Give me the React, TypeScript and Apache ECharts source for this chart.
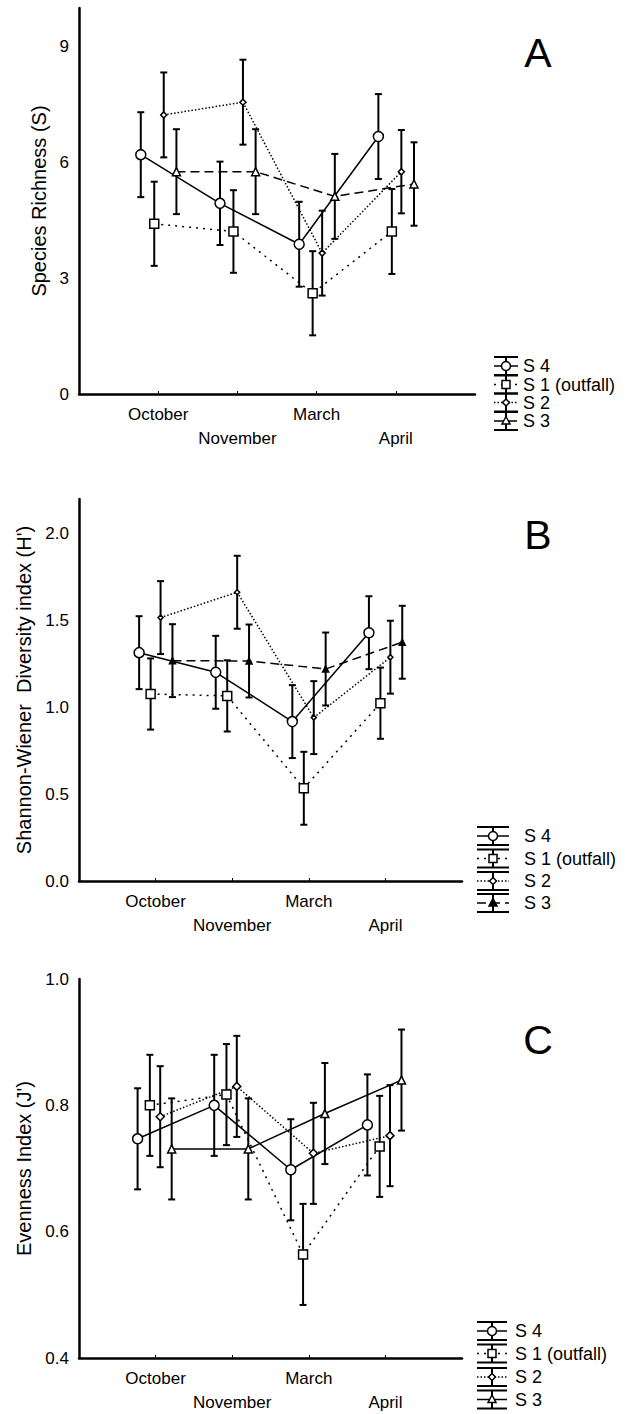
import React, { useEffect, useRef } from "react";
import * as echarts from "echarts";

// ---------- data ----------
const months = ["October", "November", "March", "April"];
const stations = ["S 4", "S 1 (outfall)", "S 2", "S 3"];

// Panel A: Species Richness (S)
const richS4 = [6.2, 4.94, 3.88, 6.67];
const richS1 = [4.41, 4.21, 2.61, 4.21];
const richS2 = [7.23, 7.56, 3.65, 5.76];
const richS3 = [5.76, 5.76, 5.12, 5.44];
const richErrS4 = [1.1, 1.08, 1.1, 1.1];
const richErrS1 = [1.09, 1.07, 1.09, 1.1];
const richErrS2 = [1.1, 1.1, 1.1, 1.08];
const richErrS3 = [1.1, 1.1, 1.1, 1.08];

// Panel B: Shannon-Wiener diversity (H')
const divS4 = [1.315, 1.202, 0.918, 1.43];
const divS1 = [1.077, 1.066, 0.534, 1.024];
const divS2 = [1.517, 1.663, 0.941, 1.289];
const divS3 = [1.269, 1.267, 1.221, 1.375];
const divErrS4 = [0.21, 0.21, 0.21, 0.21];
const divErrS1 = [0.205, 0.205, 0.21, 0.205];
const divErrS2 = [0.21, 0.21, 0.21, 0.21];
const divErrS3 = [0.21, 0.21, 0.21, 0.21];

// Panel C: Evenness (J')
const evS4 = [0.747, 0.8, 0.698, 0.769];
const evS1 = [0.8, 0.817, 0.564, 0.735];
const evS2 = [0.782, 0.83, 0.724, 0.752];
const evS3 = [0.731, 0.731, 0.787, 0.84];
const evErrS4 = [0.08, 0.08, 0.08, 0.08];
const evErrS1 = [0.08, 0.08, 0.08, 0.08];
const evErrS2 = [0.08, 0.08, 0.08, 0.08];
const evErrS3 = [0.08, 0.08, 0.08, 0.08];

const yTicksA = [0, 3, 6, 9];
const yTicksB = [0, 0.5, 1.0, 1.5, 2.0];
const yTicksC = [0.4, 0.6, 0.8, 1.0];

// ---------- layout / styles ----------
const FONT = "Liberation Sans, Arial, sans-serif";

const panels = [
  {
    letter: "A",
    name: "Species Richness (S)",
    grid: { left: 79, top: 8, width: 396, height: 386 },
    yMin: 0, yMax: 10, yTicks: yTicksA, digits: 0, nameGap: 27,
    values: [richS4, richS1, richS2, richS3],
    errs: [richErrS4, richErrS1, richErrS2, richErrS3],
    dodge: [-0.22, -0.05, 0.07, 0.23],
    letterPos: [538, 53],
    legend: { cx: 506, half: 12, textX: 523, ys: [366, 384.5, 402.5, 421] },
    s3Solid: false, s3Filled: false, s2Size: 6,
  },
  {
    letter: "B",
    name: "Shannon-Wiener  Diversity index (H')",
    grid: { left: 79, top: 499, width: 383, height: 382 },
    yMin: 0, yMax: 2.2, yTicks: yTicksB, digits: 1, nameGap: 41,
    values: [divS4, divS1, divS2, divS3],
    errs: [divErrS4, divErrS1, divErrS2, divErrS3],
    dodge: [-0.215, -0.065, 0.065, 0.22],
    letterPos: [538, 535],
    legend: { cx: 493, half: 16, textX: 524, ys: [836, 858.5, 881, 903] },
    s3Solid: false, s3Filled: true, s2Size: 5,
  },
  {
    letter: "C",
    name: "Evenness Index (J')",
    grid: { left: 79, top: 979, width: 383, height: 384 },
    yMin: 0.4, yMax: 1.0, yTicks: yTicksC, digits: 1, nameGap: 38,
    values: [evS4, evS1, evS2, evS3],
    errs: [evErrS4, evErrS1, evErrS2, evErrS3],
    dodge: [-0.235, -0.075, 0.06, 0.21],
    letterPos: [538, 1040],
    legend: { cx: 492, half: 15, textX: 515, ys: [1331, 1353.5, 1377, 1399.5] },
    s3Solid: true, s3Filled: false, s2Size: 8,
  },
];

const lineDashes: any[] = ["solid", [2, 5], [1.5, 2], [9, 5]];
const symbols = ["circle", "rect", "diamond", "triangle"];
const symbolSizes = [10, 9, 6, 8];

function buildOption() {
  const grid: any[] = [];
  const xAxis: any[] = [];
  const yAxis: any[] = [];
  const series: any[] = [];
  const graphic: any[] = [];

  panels.forEach((p, pi) => {
    grid.push({ ...p.grid, containLabel: false });
    xAxis.push({
      type: "value",
      gridIndex: pi,
      min: 0,
      max: 5,
      interval: 1,
      splitLine: { show: false },
      axisLine: { show: true, lineStyle: { color: "#000", width: 2.5 } },
      axisTick: { show: true, inside: true, length: 3, customValues: [1, 2, 3, 4], lineStyle: { color: "#000", width: 1 } },
      axisLabel: {
        show: true,
        customValues: [1, 2, 3, 4],
        color: "#000",
        fontFamily: FONT,
        fontSize: 17,
        lineHeight: 24,
        margin: 8,
        formatter: (v: number) => {
          const i = Math.round(v) - 1;
          if (i < 0 || i > 3) return "";
          return i % 2 === 1 ? "\n" + months[i] : months[i];
        },
      },
    });
    yAxis.push({
      type: "value",
      gridIndex: pi,
      min: p.yMin,
      max: p.yMax,
      name: p.name,
      nameLocation: "middle",
      nameRotate: 90,
      nameGap: p.nameGap,
      nameTextStyle: { color: "#000", fontFamily: FONT, fontSize: 20 },
      splitLine: { show: false },
      axisLine: { show: true, lineStyle: { color: "#000", width: 2.5 } },
      axisTick: { show: false },
      axisLabel: {
        customValues: p.yTicks,
        color: "#000",
        fontFamily: FONT,
        fontSize: 17,
        margin: 10,
        formatter: (v: number) => v.toFixed(p.digits),
      },
    });

    p.values.forEach((vals, si) => {
      const off = p.dodge[si];
      const errs = p.errs[si];
      const dash = si === 3 && p.s3Solid ? "solid" : lineDashes[si];
      const size = si === 2 ? p.s2Size : si === 3 && p.s3Filled ? 6 : symbolSizes[si];
      const fill = si === 3 && p.s3Filled ? "#000" : "#fff";
      series.push({
        type: "custom",
        name: stations[si] + " err " + p.letter,
        xAxisIndex: pi,
        yAxisIndex: pi,
        z: 2,
        silent: true,
        encode: { x: 0, y: [1, 2] },
        data: vals.map((v, k) => [k + 1 + off, v - errs[k], v + errs[k]]),
        renderItem: (params: any, api: any) => {
          const x = api.value(0);
          const lo = api.coord([x, api.value(1)]);
          const hi = api.coord([x, api.value(2)]);
          const w = 3.5;
          const st = { stroke: "#000", lineWidth: 2 };
          return {
            type: "group",
            children: [
              { type: "line", shape: { x1: lo[0], y1: lo[1], x2: hi[0], y2: hi[1] }, style: st },
              { type: "line", shape: { x1: hi[0] - w, y1: hi[1], x2: hi[0] + w, y2: hi[1] }, style: st },
              { type: "line", shape: { x1: lo[0] - w, y1: lo[1], x2: lo[0] + w, y2: lo[1] }, style: st },
            ],
          };
        },
      });
      series.push({
        type: "line",
        name: stations[si] + " " + p.letter,
        xAxisIndex: pi,
        yAxisIndex: pi,
        z: 3,
        data: vals.map((v, k) => [k + 1 + off, v]),
        symbol: symbols[si],
        symbolSize: size,
        showAllSymbol: true,
        lineStyle: { color: "#000", width: 1.5, type: dash },
        itemStyle: { color: fill, borderColor: "#000", borderWidth: 1.5 },
      });
    });

    // panel letter
    graphic.push({
      type: "text",
      x: p.letterPos[0],
      y: p.letterPos[1],
      style: { text: p.letter, fontFamily: FONT, fontSize: 41, fill: "#000", align: "center", verticalAlign: "middle" },
    });

    // legend
    const L = p.legend;
    stations.forEach((name, si) => {
      const y = L.ys[si];
      const x1 = L.cx - L.half;
      const x2 = L.cx + L.half;
      const st = { stroke: "#000", lineWidth: 2 };
      const dash = si === 3 && p.s3Solid ? "solid" : lineDashes[si];
      graphic.push({ type: "line", shape: { x1: L.cx, y1: y - 9, x2: L.cx, y2: y + 9 }, style: st });
      graphic.push({ type: "line", shape: { x1, y1: y - 9, x2, y2: y - 9 }, style: st });
      graphic.push({ type: "line", shape: { x1, y1: y + 9, x2, y2: y + 9 }, style: st });
      graphic.push({
        type: "line",
        shape: { x1, y1: y, x2, y2: y },
        style: { stroke: "#000", lineWidth: 1.5, lineDash: dash === "solid" ? null : dash },
      });
      const ms = { fill: si === 3 && p.s3Filled ? "#000" : "#fff", stroke: "#000", lineWidth: 1.5 };
      if (si === 0) graphic.push({ type: "circle", shape: { cx: L.cx, cy: y, r: 4.5 }, style: ms });
      else if (si === 1) graphic.push({ type: "rect", shape: { x: L.cx - 4, y: y - 4, width: 8, height: 8 }, style: ms });
      else if (si === 2)
        graphic.push({ type: "polygon", shape: { points: [[L.cx, y - 3.5], [L.cx + 3.5, y], [L.cx, y + 3.5], [L.cx - 3.5, y]] }, style: ms });
      else
        graphic.push({ type: "polygon", shape: { points: [[L.cx, y - 4.5], [L.cx + 4, y + 3], [L.cx - 4, y + 3]] }, style: ms });
      graphic.push({
        type: "text",
        x: L.textX,
        y,
        style: { text: name, fontFamily: FONT, fontSize: 18, fill: "#000", align: "left", verticalAlign: "middle" },
      });
    });
  });

  return {
    animation: false,
    backgroundColor: "#fff",
    grid,
    xAxis,
    yAxis,
    series,
    graphic,
  };
}

export default function App() {
  const ref = useRef<HTMLDivElement>(null);
  useEffect(() => {
    if (!ref.current) return;
    const chart = echarts.init(ref.current, undefined, { renderer: "svg" });
    chart.setOption(buildOption() as any);
    return () => chart.dispose();
  }, []);
  return (
    <div
      ref={ref}
      style={{ position: "absolute", left: 0, top: 0, width: 626, height: 1414, background: "#fff" }}
    />
  );
}
